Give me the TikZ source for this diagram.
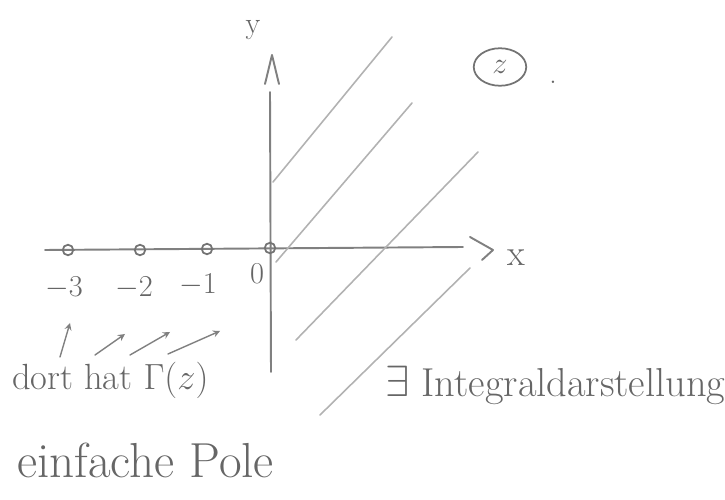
\documentclass[tikz,border=0pt]{standalone}
\usetikzlibrary{positioning,shapes.geometric}
\begin{document}
\begin{tikzpicture}[
	x=0.02cm, y=-0.02cm,
	ink/.style={ draw=black!50, line width=1.1pt, line cap=round, line join=round },
	inkl/.style={ draw=black!30, line width=0.9pt, line cap=round },
	pole/.style={ circle, draw=black!55, line width=1pt, inner sep=0pt, minimum size=6pt },
	lbl/.style={ text=black!60, inner sep=1pt },
	hint/.style={ ink, line width=0.8pt, ->, >=stealth }
]
\useasboundingbox (0,0) rectangle (725,500);

\coordinate (xl) at (45,250);
\coordinate (xr) at (463,247);
\coordinate (yt) at (270,92);
\coordinate (yb) at (271,372);
\draw[ink] (xl) to (xr);
\draw[ink] (yb) to (yt);
\draw[ink] (470,237) to (493,250) to (482,260);
\draw[ink] (265,84) to (272,55) to (279,84);

\node[lbl, font=\huge] at (516,258) (lx) {x};
\node[lbl, font=\LARGE] at (253,30) (ly) {y};

\node[pole] at (68,250) (p3) {};
\node[pole] at (140,250) (p2) {};
\node[pole] at (207,249) (p1) {};
\node[pole] at (270,248) (p0) {};

\node[lbl, font=\LARGE] at (64,288) (l3) {$-3$};
\node[lbl, font=\LARGE] at (134,288) (l2) {$-2$};
\node[lbl, font=\LARGE] at (198,285) (l1) {$-1$};
\node[lbl, font=\LARGE] at (257,274) (l0) {0};

\coordinate (a1s) at (60,357);
\coordinate (a1e) at (70,323);
\coordinate (a2s) at (95,355);
\coordinate (a2e) at (125,334);
\coordinate (a3s) at (130,355);
\coordinate (a3e) at (170,332);
\coordinate (a4s) at (168,354);
\coordinate (a4e) at (220,331);
\draw[hint] (a1s) to (a1e);
\draw[hint] (a2s) to (a2e);
\draw[hint] (a3s) to (a3e);
\draw[hint] (a4s) to (a4e);

\node[lbl, font=\huge, anchor=west] at (10,380) (dort) {dort hat $\Gamma(z)$};
\node[lbl, font=\fontsize{28}{34}\selectfont, anchor=west] at (15,460) (pole) {einfache Pole};
\node[lbl, font=\fontsize{23}{28}\selectfont, anchor=west] at (383,385) (intd) {$\exists$ Integraldarstellung};

\node[ellipse, draw=black!55, line width=1pt, inner sep=0pt, minimum width=1.05cm, minimum height=0.75cm, text=black!60, font=\LARGE] at (500,67) (cz) {$z$};
\node[lbl, font=\Large] at (553,82) (dot) {.};

\coordinate (d1s) at (273,182);
\coordinate (d1e) at (392,37);
\coordinate (d2s) at (276,262);
\coordinate (d2e) at (412,103);
\coordinate (d3s) at (296,340);
\coordinate (d3e) at (478,152);
\coordinate (d4s) at (320,415);
\coordinate (d4e) at (470,268);
\draw[inkl] (d1s) to (d1e);
\draw[inkl] (d2s) to (d2e);
\draw[inkl] (d3s) to (d3e);
\draw[inkl] (d4s) to (d4e);

\end{tikzpicture}
\end{document}
